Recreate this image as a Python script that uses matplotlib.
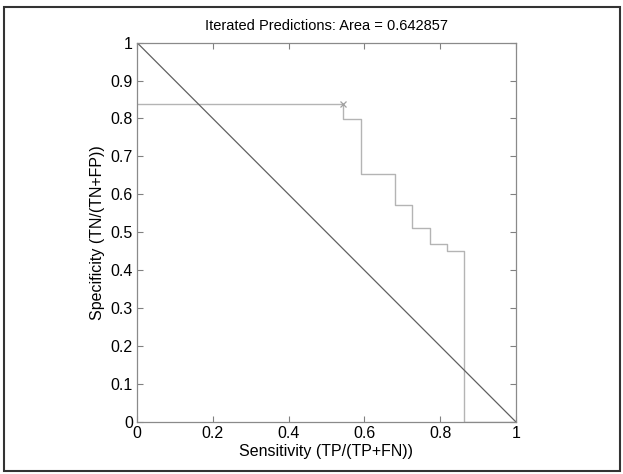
import matplotlib
matplotlib.use("Agg")
import matplotlib.pyplot as plt
from matplotlib.patches import Rectangle

plt.rcParams['font.family'] = ['Liberation Sans', 'DejaVu Sans']

title = "Iterated Predictions: Area = 0.642857"
xlabel = "Sensitivity (TP/(TP+FN))"
ylabel = "Specificity (TN/(TN+FP))"

# step ROC curve (sensitivity, specificity)
sens = [0.0, 0.545, 0.545, 0.591, 0.591, 0.682, 0.682, 0.727, 0.727,
        0.773, 0.773, 0.818, 0.818, 0.864, 0.864, 1.0]
spec = [0.838, 0.838, 0.799, 0.799, 0.654, 0.654, 0.573, 0.573, 0.512,
        0.512, 0.470, 0.470, 0.450, 0.450, 0.0, 0.0]
marker_pt = (0.545, 0.838)
diag_x = [0.0, 1.0]
diag_y = [1.0, 0.0]

xticks = [0, 0.2, 0.4, 0.6, 0.8, 1]
xticklabels = ["0", "0.2", "0.4", "0.6", "0.8", "1"]
yticks = [0, 0.1, 0.2, 0.3, 0.4, 0.5, 0.6, 0.7, 0.8, 0.9, 1]
yticklabels = ["0", "0.1", "0.2", "0.3", "0.4", "0.5", "0.6", "0.7", "0.8", "0.9", "1"]

fig = plt.figure(figsize=(6.23, 4.74), dpi=100)
ax = fig.add_axes([0.22, 0.11, 0.608, 0.80])

ax.plot(sens, spec, color='#b4b4b4', lw=1.0)
ax.plot([marker_pt[0]], [marker_pt[1]], marker='x', color='#a0a0a0', ms=4, mew=0.9)
ax.plot(diag_x, diag_y, color='#606060', lw=0.9)

ax.set_xlim(0, 1)
ax.set_ylim(0, 1)
ax.set_xticks(xticks)
ax.set_xticklabels(xticklabels)
ax.set_yticks(yticks)
ax.set_yticklabels(yticklabels)
ax.tick_params(direction='in', top=True, right=True, length=4, width=0.8,
               color='#808080', labelsize=11.5, pad=3)
for s in ax.spines.values():
    s.set_color('#8a8a8a')
    s.set_linewidth(0.9)

ax.set_title(title, fontsize=10.5, pad=9)
ax.set_xlabel(xlabel, fontsize=11.5, labelpad=2)
ax.set_ylabel(ylabel, fontsize=11.5, labelpad=4)

fig.patches.append(Rectangle((4/623, 3/474), 616/623, 464/474, transform=fig.transFigure,
                             fill=False, edgecolor='#333333', lw=1.5))

fig.savefig("out.png", dpi=100)
